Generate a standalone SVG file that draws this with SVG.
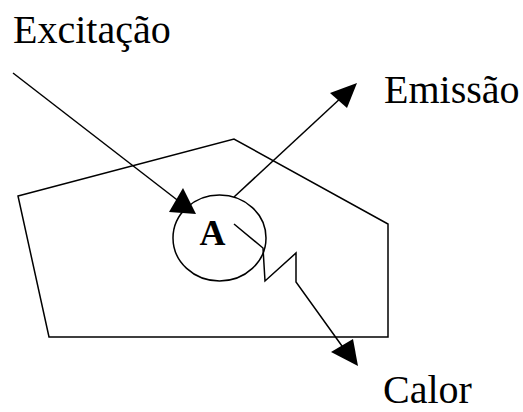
<svg xmlns="http://www.w3.org/2000/svg" width="523" height="412" viewBox="0 0 523 412">
<style>
.ln{fill:none;stroke:#000;stroke-width:1.5;stroke-linejoin:miter}
.hd{fill:#000;stroke:none}
.lbl{font-family:"Liberation Serif","Times New Roman",serif;font-size:40px;fill:#000}
</style>
<rect width="523" height="412" fill="#fff"/>
<g id="body">
<polygon class="ln" points="18,196 234,139 388,224 388,337 49,337"/>
</g>
<g id="atom">
<ellipse class="ln" cx="219.5" cy="238" rx="46.5" ry="43"/>
<text x="212.5" y="245" text-anchor="middle" style="font-family:'Liberation Serif','Times New Roman',serif;font-size:36px;font-weight:bold">A</text>
</g>
<g id="labels">
<text class="lbl" x="13" y="43">Excitação</text>
<text class="lbl" x="384" y="103">Emissão</text>
<text class="lbl" x="383" y="403">Calor</text>
</g>
<g id="connectors">
<line class="ln" x1="13" y1="73" x2="185" y2="206"/>
<polygon class="hd" points="183,188 169,212 196,214"/>
<line class="ln" x1="234" y1="197" x2="343" y2="96"/>
<polygon class="hd" points="357,83 330,93 347,108"/>
<polyline class="ln" points="234,224 263,248 265,281 296,253 296,282 347,353"/>
<polygon class="hd" points="331,352 353,339 358,366"/>
</g>
</svg>
